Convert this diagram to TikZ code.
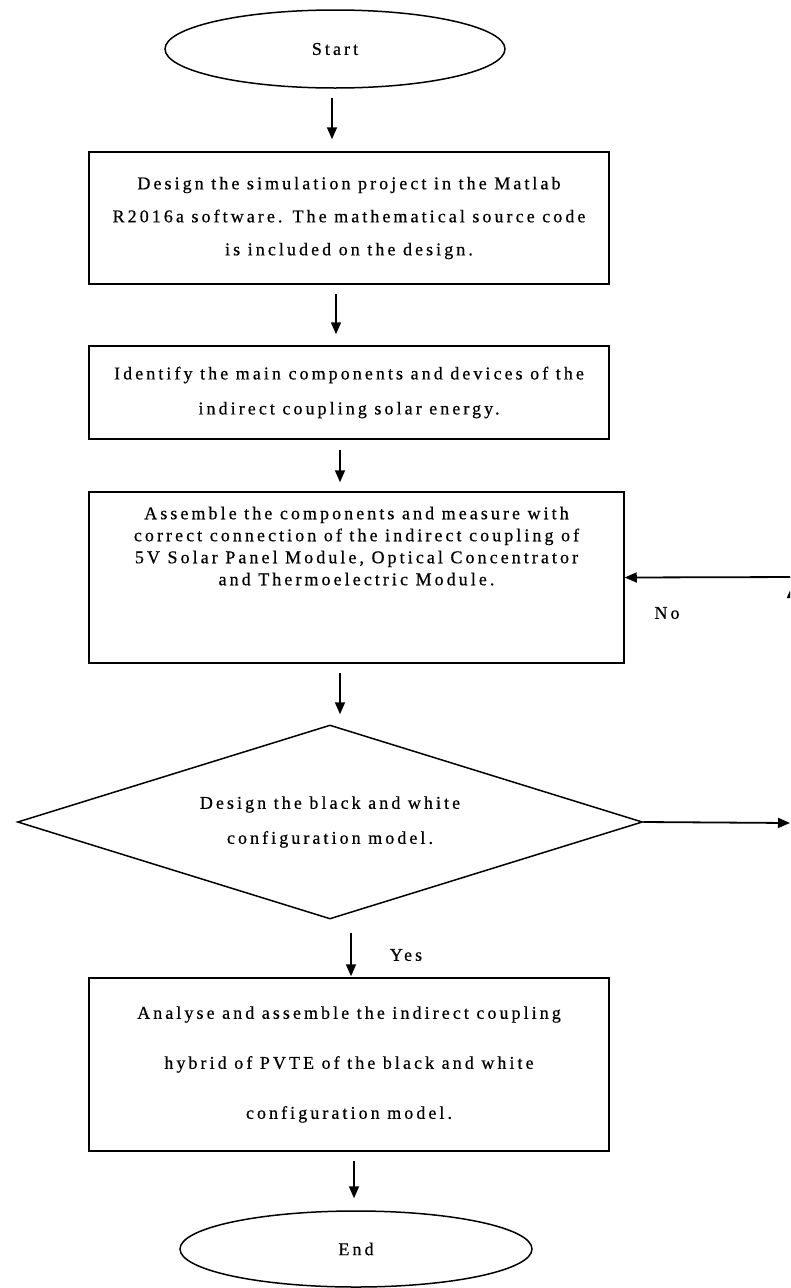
\documentclass[tikz,border=0pt]{standalone}
\usepackage{fontspec}
\setmainfont{Liberation Serif}[LetterSpace=17,FakeBold=0.6]
\usetikzlibrary{arrows.meta,positioning,shapes.geometric}
\tikzset{
  >={Triangle[length=12pt,width=10pt]},
  every node/.style={font=\fontsize{18}{22}\selectfont,text=black},
  box/.style={draw,line width=1.5pt,align=center,inner sep=0pt},
  term/.style={draw,ellipse,line width=1.5pt,inner sep=0pt},
  decision/.style={draw,diamond,aspect=3.2,line width=1.5pt,inner sep=0pt,align=center},
  arrow/.style={->,line width=1.8pt},
  txt/.style={inner sep=0pt},
}

\begin{document}
\begin{tikzpicture}[x=1pt,y=-1pt]
\useasboundingbox (0,0) rectangle (790,1288);
\clip (0,0) rectangle (790,1288);

% main column
\node[term,minimum width=340pt,minimum height=78pt] (start) at (335,49) {Start};
\node[box,minimum width=520pt,minimum height=132pt,font=\fontsize{18}{33}\selectfont] (design) at (349,218)
{Design the simulation project in the Matlab\\R2016a software. The mathematical source code\\is included on the design.};
\node[box,minimum width=520pt,minimum height=93pt,font=\fontsize{18}{35}\selectfont] (identify) at (349,392.5)
{Identify the main components and devices of the\\indirect coupling solar energy.};
\node[box,minimum width=535pt,minimum height=171pt,text depth=63pt,font=\fontsize{18}{22}\selectfont] (assemble) at (356.5,577.5)
{Assemble the components and measure with\\correct connection of the indirect coupling of\\5V Solar Panel Module, Optical Concentrator\\and Thermoelectric Module.};
\node[decision,minimum width=625pt,minimum height=194pt,font=\fontsize{18}{35}\selectfont] (config) at (330,822)
{Design the black and white\\configuration model.};
\node[box,minimum width=520pt,minimum height=173pt,font=\fontsize{18}{50}\selectfont] (analyse) at (349,1064.5)
{Analyse and assemble the indirect coupling\\hybrid of PVTE of the black and white\\configuration model.};
\node[term,minimum width=352pt,minimum height=76pt] (finish) at (356,1249) {End};

% loop back on the right
\coordinate (outright) at (790,823);
\coordinate (noin) at (800,577);
\coordinate (uplow) at (792,700);
\coordinate (uptop) at (792,586);

\draw[arrow] ([shift={(-3,9)}]start.south) -- ([shift={(-17,-12)}]design.north);
\draw[arrow] ([shift={(-13,9)}]design.south) -- ([shift={(-13,-11)}]identify.north);
\draw[arrow] ([shift={(-9,10)}]identify.south) -- ([shift={(-16.5,-9)}]assemble.north);
\draw[arrow] ([shift={(-16.5,9)}]assemble.south) -- ([shift={(10,-10)}]config.north);
\draw[arrow] ([shift={(21,13)}]config.south) -- ([shift={(2,-1)}]analyse.north);
\node[txt] (yes) at (406,955) {Yes};
\draw[arrow] ([shift={(5,9)}]analyse.south) -- ([shift={(-2,-12)}]finish.north);

\draw[arrow] (config.east) -- (outright);
\draw[arrow] (noin) -- (assemble.east);
\draw[arrow] (uplow) -- (uptop);
\node[txt] (no) at (667,613) {No};

\end{tikzpicture}
\end{document}
